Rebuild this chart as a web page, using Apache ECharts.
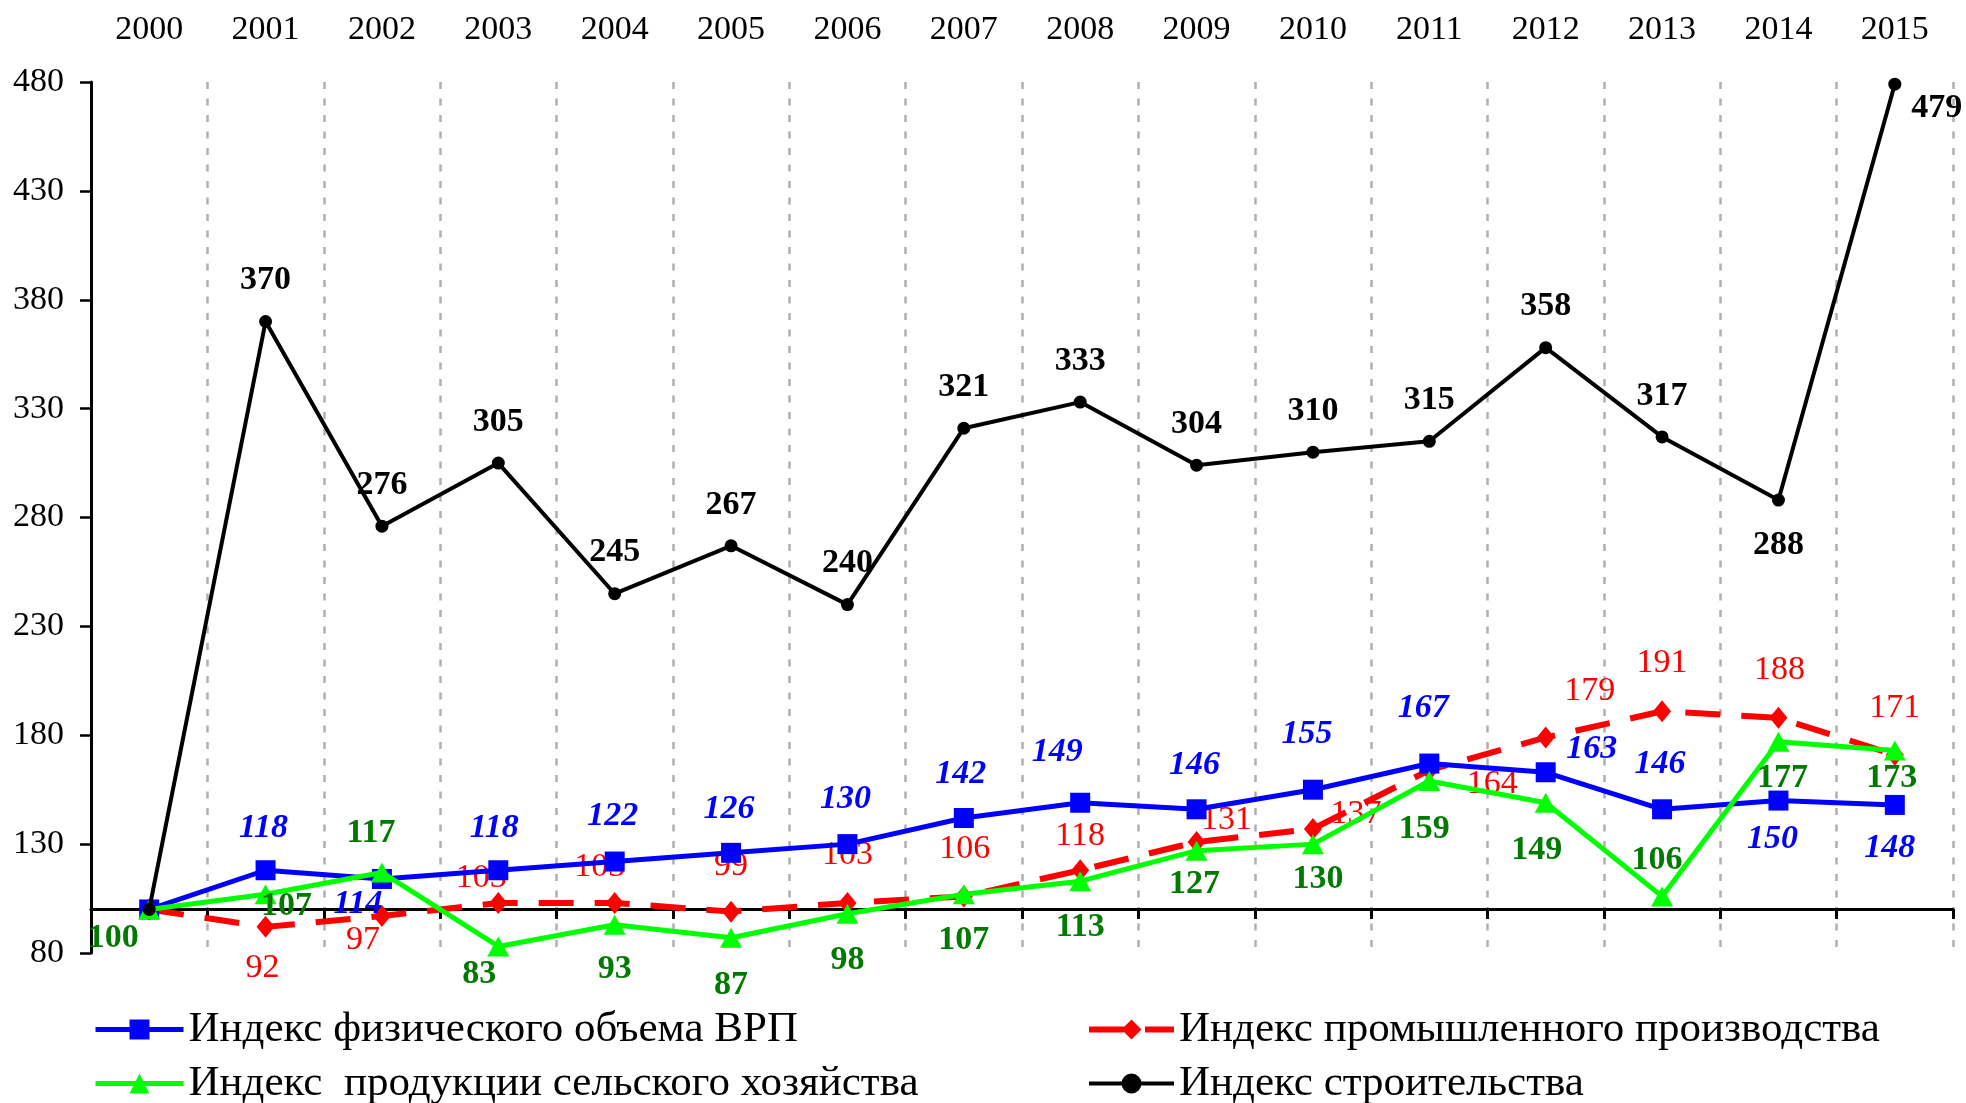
<!DOCTYPE html>
<html>
<head>
<meta charset="utf-8">
<title>Индексы</title>
<script src="https://cdn.jsdelivr.net/npm/echarts@6/dist/echarts.min.js"></script>
<style>
  html, body { margin: 0; padding: 0; background: #fff; }
  #chart { width: 1966px; height: 1103px; }
</style>
</head>
<body>
<div id="chart"></div>
<script>
// данные
const years = ['2000', '2001', '2002', '2003', '2004', '2005', '2006', '2007',
    '2008', '2009', '2010', '2011', '2012', '2013', '2014', '2015']
const yMin = 80
const yMax = 480
const yStep = 50

const nameVrp = 'Индекс физического объема ВРП'
const nameIndustry = 'Индекс промышленного производства'
const nameAgri = 'Индекс  продукции сельского хозяйства'
const nameBuild = 'Индекс строительства'

const vrp = [100, 118, 114, 118, 122, 126, 130, 142, 149, 146, 155, 167, 163, 146, 150, 148]
const industry = [100, 92, 97, 103, 103, 99, 103, 106, 118, 131, 137, 164, 179, 191, 188, 171]
const agriculture = [100, 107, 117, 83, 93, 87, 98, 107, 113, 127, 130, 159, 149, 106, 177, 173]
const construction = [100, 370, 276, 305, 245, 267, 240, 321, 333, 304, 310, 315, 358, 317, 288, 479]

// смещения подписей относительно точки (null - подписи нет)
const vrpLabelPos = [null, [-2, -42], [-24, 25], [-4, -42], [-2, -45], [-2, -44], [-2, -45], [-3, -44],
    [-23, -51], [-2, -44], [-6, -55], [-6, -55], [46, -23], [-2, -45], [-6, 39], [-5, 43]]
const industryLabelPos = [null, [-3, 41], [-19, 24], [-17, -25], [-15, -36], [0, -46], [0, -48], [1, -47],
    [0, -34], [30, -22], [43, -15], [63, 14], [44, -46], [0, -48], [1, -48], [0, -47]]
const agriLabelPos = [[-36, 29], [21, 12], [-11, -39], [-19, 28], [0, 45], [0, 47], [0, 46], [0, 46],
    [0, 46], [-2, 34], [5, 35], [-5, 48], [-9, 47], [-5, -36], [4, 36], [-3, 28]]
const buildLabelPos = [null, [0, -41], [0, -41], [0, -41], [0, -41], [0, -41], [0, -41], [0, -41],
    [0, -41], [0, -41], [0, -41], [0, -41], [0, -41], [0, -41], [0, 45], [42, 24]]

const font = 'Liberation Serif, Times New Roman, serif'

function withLabels(values, pos) {
    return values.map((v, i) => pos[i]
        ? { value: v, label: { offset: pos[i] } }
        : { value: v, label: { show: false } })
}

function lineSeries(name, values, pos, color, labelColor, opts) {
    return {
        name: name,
        type: 'line',
        data: withLabels(values, pos),
        symbol: opts.symbol,
        symbolSize: opts.symbolSize,
        lineStyle: { color: color, width: opts.width, type: opts.dash || 'solid' },
        itemStyle: { color: color },
        label: {
            show: true,
            position: 'inside',
            color: labelColor,
            fontFamily: font,
            fontSize: 34,
            fontWeight: opts.bold ? 'bold' : 'normal',
            fontStyle: opts.italic ? 'italic' : 'normal'
        },
        emphasis: { disabled: true },
        z: opts.z
    }
}

const chart = echarts.init(document.getElementById('chart'))

// общие настройки двух колонок легенды
const legendBase = {
    orient: 'vertical',
    top: 1008,
    height: 100,
    padding: 0,
    itemHeight: 25,
    itemGap: 11,
    lineStyle: { width: 'inherit' },
    textStyle: { fontSize: 43, fontFamily: font, color: '#000', padding: [0, 0, 0, 0] }
}

const option = {
    animation: false,
    backgroundColor: '#fff',
    grid: { left: 91, right: 13, top: 82, bottom: 150, outerBoundsMode: 'none' },
    legend: [
        Object.assign({}, legendBase, { left: 93, itemWidth: 88, data: [nameVrp, nameAgri] }),
        Object.assign({}, legendBase, { left: 1086, itemWidth: 85, data: [nameIndustry, nameBuild] })
    ],
    xAxis: [
        {
            // подписи годов сверху и пунктирная сетка
            type: 'category',
            data: years,
            position: 'top',
            boundaryGap: true,
            axisLine: { show: false },
            axisTick: { show: false },
            axisLabel: { fontSize: 34, fontFamily: font, color: '#000', margin: 35, interval: 0 },
            splitLine: {
                show: true,
                interval: 0,
                lineStyle: { color: '#b0b0b0', width: 2.5, type: [7, 9.5] }
            }
        },
        {
            // ось на уровне 100
            type: 'category',
            data: years,
            position: 'bottom',
            offset: -44,
            boundaryGap: true,
            axisLine: { show: true, lineStyle: { color: '#000', width: 3 } },
            axisTick: { show: true, length: 10, interval: 0, lineStyle: { color: '#000', width: 3 } },
            axisLabel: { show: false },
            splitLine: { show: false }
        }
    ],
    yAxis: {
        type: 'value',
        min: yMin,
        max: yMax,
        interval: yStep,
        axisLine: { show: true, lineStyle: { color: '#000', width: 3 } },
        axisTick: { show: true, length: 11, lineStyle: { color: '#000', width: 2.5 } },
        axisLabel: { fontSize: 34, fontFamily: font, color: '#000', margin: 27 },
        splitLine: { show: false }
    },
    series: [
        lineSeries(nameIndustry, industry, industryLabelPos, '#ff0000', '#ff0000',
            { symbol: 'diamond', symbolSize: [18, 22], width: 6, dash: [35, 21], z: 2 }),
        lineSeries(nameVrp, vrp, vrpLabelPos, '#0000ff', '#0000ff',
            { symbol: 'rect', symbolSize: 20, width: 5, bold: true, italic: true, z: 3 }),
        lineSeries(nameAgri, agriculture, agriLabelPos, '#00ff00', '#007a00',
            { symbol: 'triangle', symbolSize: [22, 20], width: 5, bold: true, z: 4 }),
        lineSeries(nameBuild, construction, buildLabelPos, '#000000', '#000000',
            { symbol: 'circle', symbolSize: 13, width: 4, bold: true, z: 5 })
    ]
}

chart.setOption(option)
window.addEventListener('resize', () => {
    chart.resize()
})
</script>
</body>
</html>
